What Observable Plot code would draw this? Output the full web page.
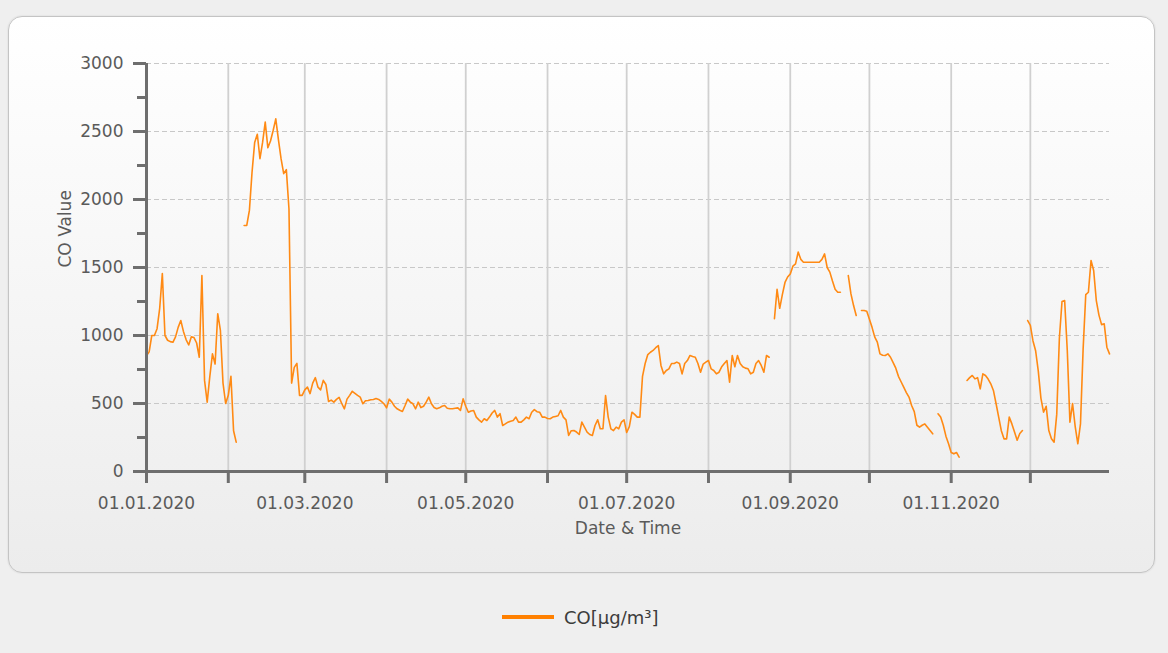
<!DOCTYPE html>
<html>
<head>
<meta charset="utf-8">
<script src="https://cdn.jsdelivr.net/npm/d3@7"></script>
<script src="https://cdn.jsdelivr.net/npm/@observablehq/plot@0.6"></script>
<style>
  html, body { margin: 0; padding: 0; background: #efefef; width: 1168px; height: 653px; overflow: hidden; font-family: "DejaVu Sans", sans-serif; }
  #panel { position: absolute; left: 8px; top: 16px; width: 1147px; height: 557px; box-sizing: border-box; border: 1px solid #c4c4c4; border-radius: 14px; background: linear-gradient(to bottom, #ffffff 0%, #f6f6f6 50%, #ececec 100%); box-shadow: 0 0 2px rgba(0,0,0,0.12); }
  #chart { position: absolute; left: 0; top: 0; }
  #legend { position: absolute; left: 502px; top: 604px; height: 26px; display: flex; align-items: center; font-size: 18px; color: #3c3c3c; }
  #legend .sw { display: inline-block; width: 52px; height: 4px; background: #ff8000; margin-right: 10px; }
</style>
</head>
<body>
<div id="panel"></div>
<div id="chart"></div>
<div id="legend"><span class="sw"></span><span>CO[µg/m³]</span></div>
<script>
// Daily CO values from 2020-01-01 (null = no data)
const startDate = "2020-01-01";
const coValues = [
  850, 880, 1000, 1000, 1050, 1200, 1455, 1000, 965, 955,
  950, 990, 1060, 1110, 1030, 970, 930, 990, 985, 945,
  840, 1441, 670, 510, 700, 865, 790, 1160, 1040, 650,
  500, 560, 700, 300, 216, null, null, 1809, 1809, 1920,
  2200, 2420, 2480, 2300, 2420, 2569, 2380, 2430, 2507, 2593,
  2440, 2300, 2190, 2220, 1930, 650, 766, 795, 560, 560,
  600, 620, 573, 650, 690, 620, 600, 670, 640, 515,
  525, 510, 530, 545, 500, 461, 532, 560, 590, 575,
  560, 547, 498, 520, 522, 527, 530, 537, 530, 515,
  498, 468, 532, 510, 480, 461, 450, 441, 485, 532,
  510, 498, 461, 510, 470, 480, 510, 547, 498, 470,
  461, 468, 480, 485, 465, 461, 461, 465, 468, 449,
  534, 480, 436, 445, 449, 400, 380, 363, 388, 375,
  400, 430, 449, 400, 425, 338, 350, 363, 370, 375,
  400, 363, 363, 380, 400, 388, 436, 455, 440, 436,
  400, 400, 390, 388, 400, 405, 410, 449, 400, 380,
  265, 300, 301, 290, 272, 363, 326, 290, 272, 265,
  338, 380, 314, 314, 559, 400, 314, 301, 326, 314,
  363, 380, 287, 330, 436, 420, 400, 400, 700, 794,
  860, 877, 890, 910, 926, 780, 718, 743, 755, 794,
  794, 804, 794, 718, 794, 816, 853, 845, 840, 794,
  730, 790, 804, 816, 755, 743, 718, 730, 770, 794,
  816, 657, 853, 770, 853, 794, 770, 760, 755, 718,
  730, 794, 816, 780, 730, 853, 840, null, 1123, 1340,
  1200, 1300, 1390, 1430, 1453, 1510, 1527, 1613, 1560, 1539,
  1539, 1539, 1539, 1539, 1539, 1539, 1560, 1600, 1500, 1466,
  1400, 1340, 1318, 1318, null, null, 1441, 1306, 1220, 1147,
  null, 1184, 1184, 1179, 1120, 1060, 990, 951, 865, 855,
  853, 865, 840, 800, 760, 700, 660, 620, 580, 547,
  485, 440, 340, 326, 340, 350, 326, 301, 277, null,
  424, 400, 340, 260, 204, 140, 130, 140, 105, null,
  null, 669, 690, 706, 681, 690, 608, 718, 706, 680,
  645, 596, 500, 400, 300, 240, 240, 400, 350, 290,
  230, 280, 301, null, 1110, 1074, 960, 888, 740, 540,
  436, 480, 301, 240, 216, 420, 980, 1250, 1257, 890,
  363, 500, 330, 204, 350, 900, 1300, 1318, 1551, 1478,
  1257, 1150, 1080, 1086, 914, 865
];
const monthTicks = ["2020-01-01","2020-02-01","2020-03-01","2020-04-01","2020-05-01","2020-06-01",
                    "2020-07-01","2020-08-01","2020-09-01","2020-10-01","2020-11-01","2020-12-01"];
const yMajorTicks = [0, 500, 1000, 1500, 2000, 2500, 3000];
const yMinorTicks = [250, 750, 1250, 1750, 2250, 2750];
const xDomain = ["2020-01-01", "2020-12-31"];

const start = new Date(startDate);
const rows = coValues.map((v, i) => ({ date: d3.utcDay.offset(start, i), co: v }));
const months = monthTicks.map(s => new Date(s));
const fmt = d3.utcFormat("%d.%m.%Y");
const axisColor = "#6e6e6e";
const textColor = "#5a5a5a";

const chart = Plot.plot({
  width: 1168,
  height: 560,
  marginLeft: 146,
  marginRight: 59,
  marginTop: 63,
  marginBottom: 89,
  style: { background: "transparent", fontFamily: "DejaVu Sans, sans-serif", fontSize: "17px", color: textColor },
  x: { type: "utc", domain: xDomain.map(s => new Date(s)) },
  y: { domain: [0, 3000] },
  marks: [
    Plot.ruleY(yMajorTicks.slice(1), { stroke: "#c8c8c8", strokeDasharray: "5,3", strokeWidth: 1 }),
    Plot.ruleX(months.slice(1), { stroke: "#d0d0d0", strokeWidth: 1.8 }),
    Plot.lineY(rows, { x: "date", y: "co", stroke: "#ff8a14", strokeWidth: 1.6 }),
    Plot.ruleX([months[0]], { stroke: axisColor, strokeWidth: 3 }),
    Plot.ruleY([0], { stroke: axisColor, strokeWidth: 3 }),
    Plot.axisY(yMajorTicks, { tickSize: 13, tickPadding: 10, strokeWidth: 3, stroke: axisColor, fill: textColor, label: null, fontSize: 17,
      tickFormat: d => String(d) }),
    Plot.axisY(yMinorTicks, { tickSize: 9, strokeWidth: 3, stroke: axisColor, tickFormat: () => "", label: null }),
    Plot.axisX(months, { tickSize: 12, tickPadding: 13, strokeWidth: 3, stroke: axisColor, fill: textColor, fontSize: 17, label: null,
      tickFormat: d => (d.getUTCMonth() % 2 === 0 ? fmt(d) : "") }),
    Plot.text(["CO Value"], { frameAnchor: "left", dx: -81, rotate: -90, fontSize: 17, fill: textColor }),
    Plot.text(["Date & Time"], { frameAnchor: "bottom", dy: 62, fontSize: 17, fill: textColor })
  ]
});
document.getElementById("chart").appendChild(chart);
</script>
</body>
</html>
